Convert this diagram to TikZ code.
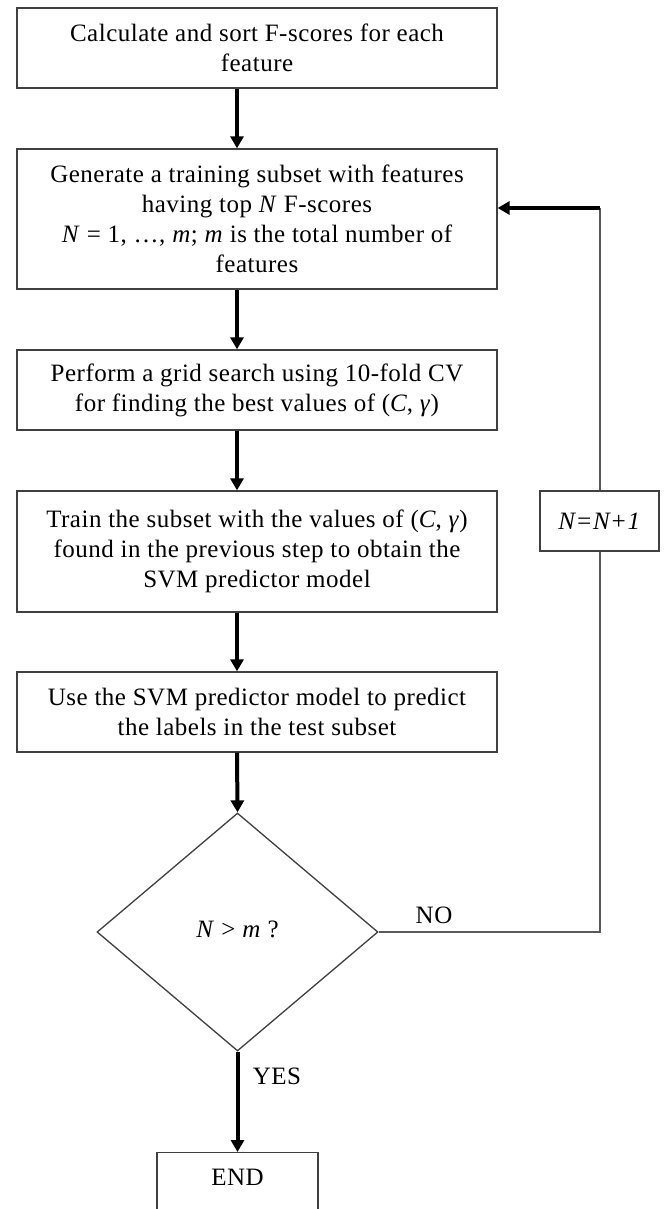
\documentclass[tikz,border=0pt]{standalone}
\usepackage{fontspec}
\setmainfont[LetterSpace=2]{Liberation Serif}
\usepackage{tikz}
\usetikzlibrary{arrows.meta,shapes.geometric,positioning}

\begin{document}
\begin{tikzpicture}[x=1pt,y=-1pt,>={Triangle[width=13pt,length=12pt]},
  every node/.style={font=\fontsize{25}{30}\selectfont},
  stepbox/.style={draw=black!75,line width=1.3pt,align=center,inner sep=0pt,minimum width=480pt},
  flow/.style={->,line width=4pt},
  back/.style={draw=black!65,line width=2pt}]
  \useasboundingbox[fill=white] (0,0) rectangle (665,1209);
  \coordinate (ax) at (237,0);

  % main column of steps
  \node[stepbox,minimum height=80pt] (calc) at (257,48)
    {Calculate and sort F-scores for each\\feature};
  \node[stepbox,minimum height=140pt] (gen) at (257,219)
    {Generate a training subset with features\\having top \textit{N} F-scores\\
     \textit{N} = 1, …, \textit{m}; \textit{m} is the total number of\\features};
  \node[stepbox,minimum height=80pt] (grid) at (257,390)
    {Perform a grid search using 10-fold CV\\for finding the best values of (\textit{C}, \textit{γ})};
  \node[stepbox,minimum height=121pt] (train) at (257,551.5)
    {Train the subset with the values of (\textit{C}, \textit{γ})\\found in the previous step to obtain the\\SVM predictor model};
  \node[stepbox,minimum height=80pt] (pred) at (257,712)
    {Use the SVM predictor model to predict\\the labels in the test subset};
  \node[draw=black!75,line width=1.3pt,diamond,inner sep=0pt,
        minimum width=281pt,minimum height=238pt] (test) at (237.5,932)
    {\raisebox{5pt}{\textit{N} > \textit{m} ?}};
  \node[draw=black!75,line width=1.3pt,minimum width=161pt,inner sep=5pt,
        text height=28pt,text depth=40pt,anchor=north] (stop) at (237.5,1152) {END};

  % counter on the way back
  \node[draw=black!75,line width=1.3pt,minimum width=119pt,minimum height=60pt,
        inner sep=0pt] (inc) at (599.5,521) {\textit{N=N+1}};
  \coordinate (turn) at (599.5,208);

  \draw[flow] (calc.south -| ax) -- (gen.north -| ax);
  \draw[flow] (gen.south -| ax) -- (grid.north -| ax);
  \draw[flow] (grid.south -| ax) -- (train.north -| ax);
  \draw[flow] (train.south -| ax) -- (pred.north -| ax);
  \draw[flow] (pred.south -| ax) -- (test.north);
  \draw[flow] (test.south) -- (stop.north);

  \draw[back] (test.east) -| (inc.south);
  \draw[back] (inc.north) -- (turn);
  \draw[flow] (turn) -- (turn -| gen.east);

  \node (no) at (434,915) {NO};
  \node (yes) at (277,1076) {YES};
\end{tikzpicture}
\end{document}
